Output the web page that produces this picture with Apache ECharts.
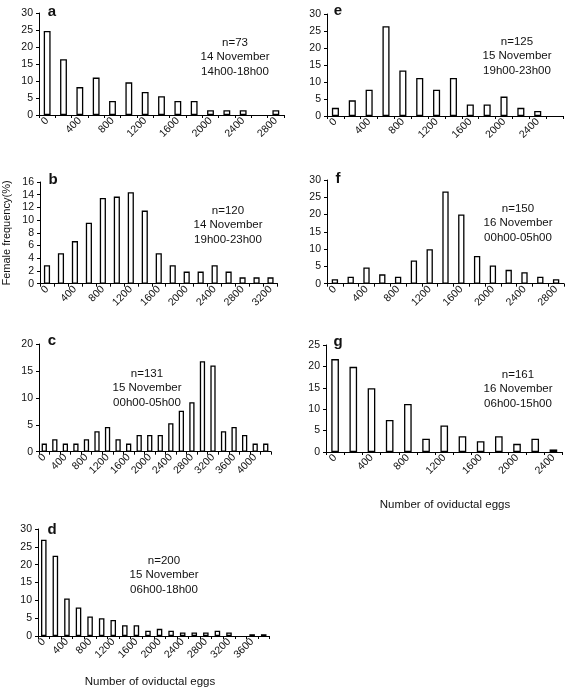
<!DOCTYPE html>
<html>
<head>
<meta charset="utf-8">
<script src="https://cdn.jsdelivr.net/npm/echarts@6/dist/echarts.min.js"></script>
<style>
html,body{margin:0;padding:0;background:#fff;}
#chart{width:566px;height:688px;}
</style>
</head>
<body>
<div id="chart"></div>
<script>
// ---- Data (percent of females per bin of oviductal eggs) ----
var catsA = ["0","200","400","600","800","1000","1200","1400","1600","1800","2000","2200","2400","2600","2800"];
var valsA = [24.7,16.4,8.2,11.0,4.1,9.6,6.8,5.5,4.1,4.1,1.4,1.4,1.4,null,1.4];

var catsB = ["0","200","400","600","800","1000","1200","1400","1600","1800","2000","2200","2400","2600","2800","3000","3200"];
var valsB = [2.9,4.8,6.7,9.6,13.5,13.7,14.4,11.5,4.8,2.9,1.9,1.9,2.9,1.9,1.0,1.0,1.0];

var catsC = ["0","200","400","600","800","1000","1200","1400","1600","1800","2000","2200","2400","2600","2800","3000","3200","3400","3600","3800","4000","4200"];
var valsC = [1.5,2.3,1.5,1.5,2.3,3.8,4.6,2.3,1.5,3.1,3.1,3.1,5.3,7.6,9.2,16.8,16.0,3.8,4.6,3.1,1.5,1.5];

var catsD = ["0","200","400","600","800","1000","1200","1400","1600","1800","2000","2200","2400","2600","2800","3000","3200","3400","3600","3800"];
var valsD = [27.0,22.5,10.5,8.0,5.5,5.0,4.5,3.0,3.0,1.5,2.0,1.5,1.0,1.0,1.0,1.5,1.0,null,0.5,0.5];

var catsE = ["0","200","400","600","800","1000","1200","1400","1600","1800","2000","2200","2400","2600"];
var valsE = [2.4,4.6,7.7,26.4,13.4,11.2,7.7,11.2,3.4,3.4,5.7,2.4,1.5,null];

var catsF = ["0","200","400","600","800","1000","1200","1400","1600","1800","2000","2200","2400","2600","2800"];
var valsF = [1.3,2.0,4.7,2.7,2.0,6.7,10.0,26.7,20.0,8.0,5.3,4.0,3.3,2.0,1.3];

var catsG = ["0","200","400","600","800","1000","1200","1400","1600","1800","2000","2200","2400"];
var valsG = [21.7,19.9,14.9,7.5,11.2,3.1,6.2,3.7,2.5,3.7,1.9,3.1,0.6];

var yMax = [30,16,20,30,30,30,25];
var yStep = [5,2,5,5,5,5,5];
var panelLetters = ["a","b","c","d","e","f","g"];
var panelNotes = [
  ["n=73","14 November","14h00-18h00"],
  ["n=120","14 November","19h00-23h00"],
  ["n=131","15 November","00h00-05h00"],
  ["n=200","15 November","06h00-18h00"],
  ["n=125","15 November","19h00-23h00"],
  ["n=150","16 November","00h00-05h00"],
  ["n=161","16 November","06h00-15h00"]
];
var yTitle = "Female frequency(%)";
var xTitle = "Number of oviductal eggs";

// ---- Layout ----
var FONT = "Liberation Sans";
var grids = [
  {left:39, top:13, width:245, height:102},
  {left:40, top:182, width:237.5, height:101.7},
  {left:39, top:344, width:232, height:107.7},
  {left:38, top:529, width:231.5, height:107},
  {left:327, top:14, width:236, height:102},
  {left:327, top:180, width:237, height:103.7},
  {left:326, top:345, width:236.5, height:107}
];
var cats = [catsA,catsB,catsC,catsD,catsE,catsF,catsG];
var vals = [valsA,valsB,valsC,valsD,valsE,valsF,valsG];
var gaps = ['58%','56%','50%','52%','58%','60%','58%'];
var letterPos = [[52,12],[53,180],[52,341],[52,530],[338,11],[338,179],[338,342]];
var notePos = [[235,43],[228,211],[147,374],[164,561],[517,42],[518,209],[518,375]];

function txt(x, y, s, size, bold, rot){
  var el = {
    type:'text', x:x, y:y,
    style:{text:s, fontSize:size, fontFamily:FONT, fontWeight:bold?'bold':'normal',
           fill:'#111', textAlign:'center', textVerticalAlign:'middle', align:'center', verticalAlign:'middle'}
  };
  if (rot) el.rotation = rot;
  return el;
}

var option = {
  animation:false,
  backgroundColor:'#fff',
  textStyle:{fontFamily:FONT},
  grid:[], xAxis:[], yAxis:[], series:[], graphic:[]
};
for (var i=0;i<7;i++){
  var g = grids[i];
  option.grid.push({left:g.left, top:g.top, width:g.width, height:g.height, containLabel:false});
  option.xAxis.push({
    type:'category', gridIndex:i, data:cats[i], boundaryGap:true,
    axisLine:{lineStyle:{color:'#000', width:1}},
    axisTick:{show:true, interval:0, length:3, lineStyle:{color:'#000'}},
    axisLabel:{interval:1, rotate:45, margin:4, color:'#111', fontSize:10.5, fontFamily:FONT},
    splitLine:{show:false}
  });
  option.yAxis.push({
    type:'value', gridIndex:i, min:0, max:yMax[i], interval:yStep[i],
    axisLine:{show:true, lineStyle:{color:'#000', width:1}},
    axisTick:{show:true, length:3, lineStyle:{color:'#000'}},
    axisLabel:{margin:6, color:'#111', fontSize:10.5, fontFamily:FONT},
    splitLine:{show:false}
  });
  option.series.push({
    type:'bar', xAxisIndex:i, yAxisIndex:i, data:vals[i],
    barCategoryGap:gaps[i],
    itemStyle:{color:'#fff', borderColor:'#000', borderWidth:1.3}
  });
  option.graphic.push(txt(letterPos[i][0], letterPos[i][1], panelLetters[i], 15, true));
  for (var k=0;k<3;k++){
    option.graphic.push(txt(notePos[i][0], notePos[i][1]+k*14.3, panelNotes[i][k], 11.5, false));
  }
}
option.graphic.push(txt(7, 233, yTitle, 11, false, Math.PI/2));
option.graphic.push(txt(150, 682, xTitle, 11.5, false));
option.graphic.push(txt(445, 505, xTitle, 11.5, false));

var chart = echarts.init(document.getElementById('chart'), null, {renderer:'canvas'});
chart.setOption(option);
</script>
</body>
</html>
